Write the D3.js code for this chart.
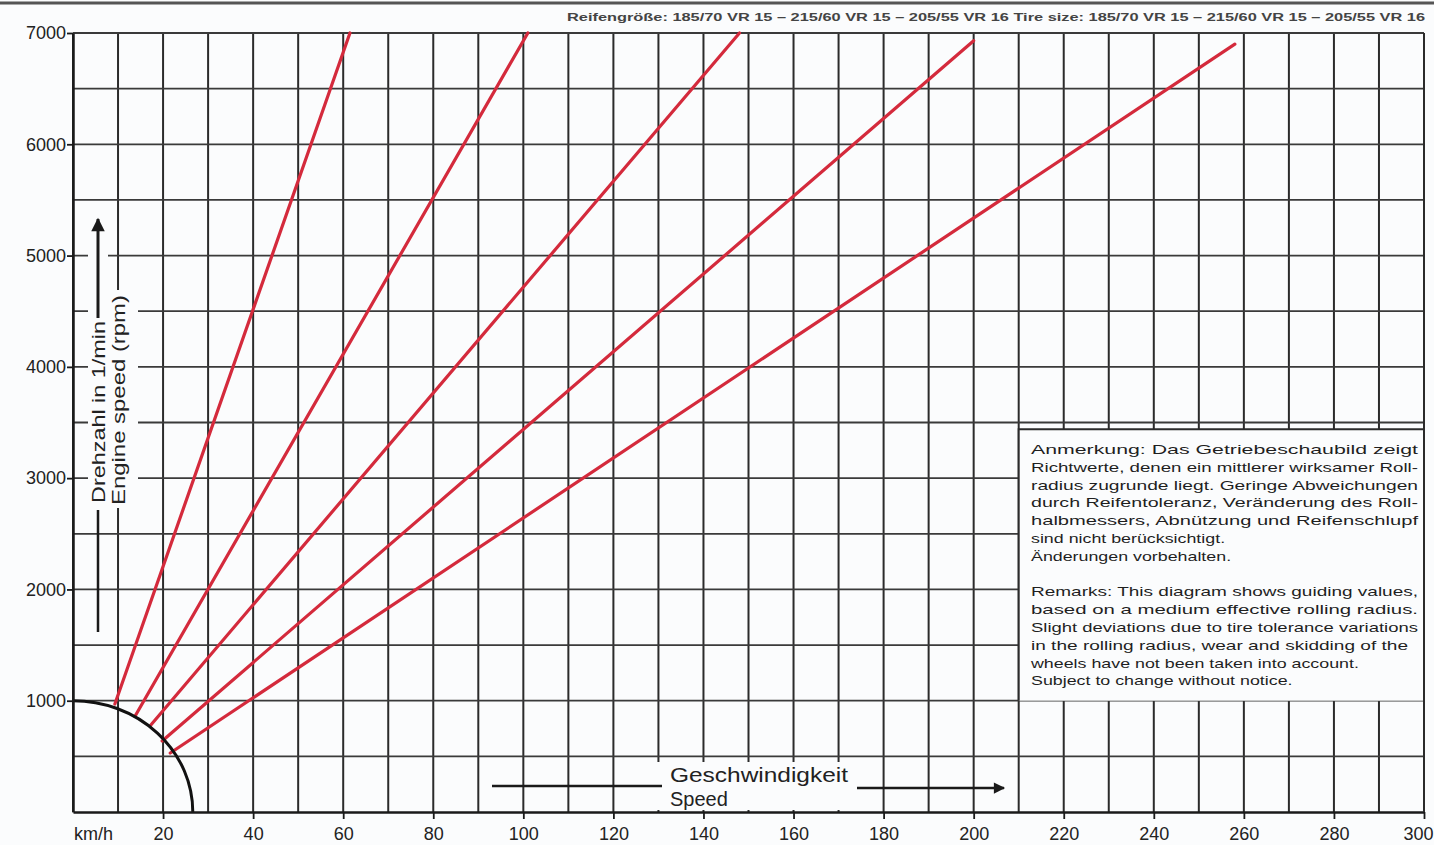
<!DOCTYPE html>
<html>
<head>
<meta charset="utf-8">
<script src="https://cdn.jsdelivr.net/npm/d3@7"></script>
<style>
  html, body { margin: 0; padding: 0; background: #fbfcfd; }
  svg { display: block; font-family: "Liberation Sans", Arial, sans-serif; }
</style>
</head>
<body>
<svg id="chart" width="1434" height="845"></svg>
<script>
// values
const speedTicks = [20, 40, 60, 80, 100, 120, 140, 160, 180, 200, 220, 240, 260, 280, 300];
const rpmTicks = [1000, 2000, 3000, 4000, 5000, 6000, 7000];
const gears = ["1", "2", "3", "4", "5"];
const gearStartSpeed = [9.3, 13.8, 17.1, 19.8, 21.6];
const gearStartRpm = [970, 863, 773, 638, 530];
const gearEndSpeed = [61.5, 101, 148, 200, 258];
const gearEndRpm = [7000, 7000, 7000, 6930, 6900];
const shiftArcSpeed = 26.6; // where the idle arc meets the axis
const shiftArcRpm = 1000;

const headerText = "Reifengröße: 185/70 VR 15 – 215/60 VR 15 – 205/55 VR 16   Tire size: 185/70 VR 15 – 215/60 VR 15 – 205/55 VR 16";
const germanNote = [
  "Anmerkung: Das Getriebeschaubild zeigt",
  "Richtwerte, denen ein mittlerer wirksamer Roll-",
  "radius zugrunde liegt. Geringe Abweichungen",
  "durch Reifentoleranz, Veränderung des Roll-",
  "halbmessers, Abnützung und Reifenschlupf",
  "sind nicht berücksichtigt.",
  "Änderungen vorbehalten."
];
const englishNote = [
  "Remarks: This diagram shows guiding values,",
  "based on a medium effective rolling radius.",
  "Slight deviations due to tire tolerance variations",
  "in the rolling radius, wear and skidding of the",
  "wheels have not been taken into account.",
  "Subject to change without notice."
];

const svg = d3.select("#chart");
const x = d3.scaleLinear().domain([0, 300]).range([73, 1424]);
const y = d3.scaleLinear().domain([0, 7000]).range([812, 33]);

// top rule + tyre header
svg.append("line")
  .attr("x1", 0).attr("x2", 1434).attr("y1", 3).attr("y2", 3)
  .attr("stroke", "#555").attr("stroke-width", 3);
svg.append("text")
  .attr("x", 567).attr("y", 21)
  .attr("textLength", 858).attr("lengthAdjust", "spacingAndGlyphs")
  .style("font-size", "11px").style("font-weight", "bold").attr("fill", "#444")
  .text(headerText);

// grid
const grid = svg.append("g");
grid.selectAll("line.v")
  .data(d3.range(0, 301, 10))
  .enter().append("line")
  .attr("x1", (d) => x(d)).attr("x2", (d) => x(d))
  .attr("y1", y(7000)).attr("y2", y(0))
  .attr("stroke", "#2b2b2b").attr("stroke-width", 2);
grid.selectAll("line.h")
  .data(d3.range(500, 7001, 500))
  .enter().append("line")
  .attr("x1", x(0)).attr("x2", x(300))
  .attr("y1", (d) => y(d)).attr("y2", (d) => y(d))
  .attr("stroke", "#3a3a3a").attr("stroke-width", 1.8);

// white patches behind the titles and the note box
svg.append("rect").attr("x", 88).attr("y", 225).attr("width", 20).attr("height", 283).attr("fill", "#fbfcfd");
svg.append("rect").attr("x", 108).attr("y", 290).attr("width", 30).attr("height", 218).attr("fill", "#fbfcfd");
svg.append("rect").attr("x", 645).attr("y", 762).attr("width", 215).attr("height", 48).attr("fill", "#fbfcfd");

const boxTop = y(3440), boxLeft = x(210);
svg.append("rect")
  .attr("x", boxLeft).attr("y", boxTop)
  .attr("width", x(300) - boxLeft).attr("height", y(1000) - boxTop)
  .attr("fill", "#fbfcfd");
svg.append("path")
  .attr("d", `M${boxLeft},${y(1000)}V${boxTop}H${x(300)}`)
  .attr("fill", "none").attr("stroke", "#2b2b2b").attr("stroke-width", 2);

// gear lines
svg.append("g").selectAll("line")
  .data(gears)
  .enter().append("line")
  .attr("x1", (d, i) => x(gearStartSpeed[i]))
  .attr("y1", (d, i) => y(gearStartRpm[i]))
  .attr("x2", (d, i) => x(gearEndSpeed[i]))
  .attr("y2", (d, i) => y(gearEndRpm[i]))
  .attr("stroke", "#d42a3c").attr("stroke-width", 3.2)
  .attr("stroke-linecap", "round");

// idle arc
svg.append("path")
  .attr("d", `M${x(0)},${y(shiftArcRpm)} A${x(shiftArcSpeed) - x(0)},${y(0) - y(shiftArcRpm)} 0 0 1 ${x(shiftArcSpeed)},${y(0)}`)
  .attr("fill", "none").attr("stroke", "#111").attr("stroke-width", 3);

// axes
const xAxis = svg.append("g")
  .attr("transform", `translate(0,${y(0)})`)
  .call(d3.axisBottom(x).tickValues(speedTicks).tickFormat(d3.format("d"))
    .tickSize(7).tickPadding(8).tickSizeOuter(0));
const yAxis = svg.append("g")
  .attr("transform", `translate(${x(0)},0)`)
  .call(d3.axisLeft(y).tickValues(rpmTicks).tickFormat(d3.format("d"))
    .tickSize(6).tickPadding(1).tickSizeOuter(0));
[xAxis, yAxis].forEach((a) => {
  a.select(".domain").attr("stroke", "#1a1a1a").attr("stroke-width", 2.5);
  a.selectAll(".tick line").attr("stroke", "#1a1a1a").attr("stroke-width", 1.8);
  a.selectAll(".tick text")
    .attr("fill", "#222")
    .style("font-size", "18px")
    .style("font-family", '"Liberation Sans", Arial, sans-serif');
});
// last speed label sits on the page edge, pull it inside
xAxis.selectAll(".tick text")
  .filter((d) => d === 300)
  .attr("text-anchor", "end").attr("x", 9);
svg.append("line")
  .attr("x1", x(300)).attr("x2", x(300)).attr("y1", y(7000)).attr("y2", y(0))
  .attr("stroke", "#2b2b2b").attr("stroke-width", 2);
svg.append("text")
  .attr("x", 74).attr("y", 840)
  .style("font-size", "18px").attr("fill", "#222")
  .text("km/h");

// arrow heads
svg.append("defs").append("marker")
  .attr("id", "arrow")
  .attr("viewBox", "0 0 10 10")
  .attr("refX", 9).attr("refY", 5)
  .attr("markerWidth", 6).attr("markerHeight", 4.5)
  .attr("markerUnits", "strokeWidth")
  .attr("orient", "auto")
  .append("path").attr("d", "M0,0L10,5L0,10z").attr("fill", "#1a1a1a");

// y title
svg.append("text")
  .attr("transform", "translate(105,503) rotate(-90)")
  .attr("textLength", 182).attr("lengthAdjust", "spacingAndGlyphs")
  .style("font-size", "19px").attr("fill", "#222")
  .text("Drehzahl in 1/min");
svg.append("text")
  .attr("transform", "translate(125,505) rotate(-90)")
  .attr("textLength", 210).attr("lengthAdjust", "spacingAndGlyphs")
  .style("font-size", "19px").attr("fill", "#222")
  .text("Engine speed (rpm)");
svg.append("line")
  .attr("x1", 98).attr("x2", 98).attr("y1", 318).attr("y2", 219)
  .attr("stroke", "#1a1a1a").attr("stroke-width", 3)
  .attr("marker-end", "url(#arrow)");
svg.append("line")
  .attr("x1", 98).attr("x2", 98).attr("y1", 510).attr("y2", 632)
  .attr("stroke", "#1a1a1a").attr("stroke-width", 2.5);

// x title
svg.append("text")
  .attr("x", 670).attr("y", 782)
  .attr("textLength", 178).attr("lengthAdjust", "spacingAndGlyphs")
  .style("font-size", "20px").attr("fill", "#222")
  .text("Geschwindigkeit");
svg.append("text")
  .attr("x", 670).attr("y", 806)
  .style("font-size", "20px").attr("fill", "#222")
  .text("Speed");
svg.append("line")
  .attr("x1", 492).attr("x2", 662).attr("y1", 786).attr("y2", 786)
  .attr("stroke", "#1a1a1a").attr("stroke-width", 2.5);
svg.append("line")
  .attr("x1", 857).attr("x2", 1004).attr("y1", 788).attr("y2", 788)
  .attr("stroke", "#1a1a1a").attr("stroke-width", 2.5)
  .attr("marker-end", "url(#arrow)");

// note box text: the print face is wide, so glyphs are stretched;
// full lines are justified to the box, paragraph ends keep the same stretch
const noteLeft = 1031, noteWidth = 387, lineStep = 17.8, stretch = 1.32;
function noteBlock(lines, top, raggedWidths) {
  svg.append("g").selectAll("text")
    .data(lines)
    .enter().append("text")
    .attr("x", noteLeft)
    .attr("y", (d, i) => top + i * lineStep)
    .style("font-size", "13.5px").attr("fill", "#1f1f1f")
    .text((d) => d)
    .each(function (d, i) {
      const natural = this.getComputedTextLength();
      let w = raggedWidths[i] !== undefined ? raggedWidths[i] : noteWidth;
      if (w === 0) w = natural * stretch;
      d3.select(this).attr("textLength", w.toFixed(1)).attr("lengthAdjust", "spacingAndGlyphs");
    });
}
noteBlock(germanNote, 454, { 5: 0, 6: 0 });
noteBlock(englishNote, 454 + 8 * lineStep, { 3: 377, 4: 0, 5: 0 });
</script>
</body>
</html>
